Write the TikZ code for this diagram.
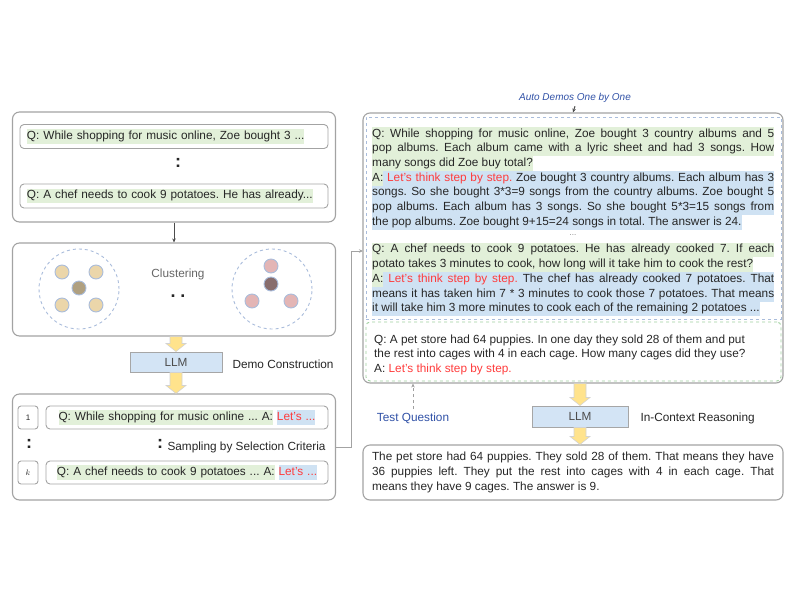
\documentclass[tikz,border=0pt]{standalone}
\usepackage{fontspec}
\setmainfont{Liberation Sans}
\usepackage{xcolor}
\usepackage{tikz}
\usetikzlibrary{arrows.meta, positioning}

\definecolor{qgreen}{HTML}{E2F0D9}
\definecolor{ablue}{HTML}{CFE2F3}
\definecolor{letsred}{HTML}{FF3B3B}
\definecolor{capblue}{HTML}{2F50A6}
\definecolor{rimgray}{HTML}{A3A3A3}
\definecolor{ringblue}{HTML}{A9BCDB}
\definecolor{llmblue}{HTML}{D3E4F5}
\definecolor{arrowyel}{HTML}{FFE38C}
\definecolor{ptan}{HTML}{EBD6AA}
\definecolor{ppink}{HTML}{E3B5B5}
\definecolor{dashgreen}{HTML}{9FD09F}

\frenchspacing
\setlength{\fboxsep}{0pt}
% one justified line of a demo, and its highlighted forms
\newcommand{\jline}[1]{\makebox[402pt][s]{#1}}
\newcommand{\qline}[1]{\colorbox{qgreen}{\strut\jline{#1}}}
\newcommand{\qend}[1]{\colorbox{qgreen}{\strut #1}}
\newcommand{\aline}[1]{\colorbox{ablue}{\strut\jline{#1}}}
\newcommand{\aend}[1]{\colorbox{ablue}{\strut #1}}
\newcommand{\lets}[1]{{\color{letsred}#1}}
\newcommand{\qmark}[1]{\colorbox{qgreen}{\strut #1}}
% fat yellow arrow pointing down from #1 to #2
\newcommand{\blockarrow}[2]{%
  \draw[yarr] ([xshift=-6pt]#1) -- ([xshift=-6pt,yshift=8pt]#2)
    -- ([xshift=-10pt,yshift=8pt]#2) -- (#2) -- ([xshift=10pt,yshift=8pt]#2)
    -- ([xshift=6pt,yshift=8pt]#2) -- ([xshift=6pt]#1) -- cycle;}

\begin{document}
\begin{tikzpicture}[x=1pt, y=-1pt,
  font=\fontsize{11.8}{14.7}\selectfont, text=black!85,
  panel/.style={draw=rimgray, line width=1.1pt, rounded corners=7pt},
  qbox/.style={draw=rimgray, line width=0.9pt, rounded corners=4pt,
               minimum height=24pt, text width=294pt, align=left, inner xsep=7pt},
  numbox/.style={draw=rimgray, line width=0.9pt, rounded corners=3pt,
                 minimum width=20pt, minimum height=23pt, inner sep=0pt,
                 font=\fontsize{8}{10}\selectfont},
  ring/.style={circle, draw=ringblue, dashed, line width=0.9pt, minimum size=80pt},
  tanpt/.style={circle, draw=ringblue, fill=ptan, line width=0.9pt,
                minimum size=14pt, inner sep=0pt},
  pinkpt/.style={tanpt, fill=ppink},
  llm/.style={draw=gray!70, fill=llmblue, line width=1pt, text=black!70,
              minimum width=92pt, minimum height=20pt},
  yarr/.style={draw=gray!35, fill=arrowyel, line width=0.6pt, line join=miter},
  colon/.style={font=\bfseries\fontsize{18}{18}\selectfont, inner sep=0pt},
  para/.style={align=left, inner sep=0pt, anchor=north west},
  conn/.style={-{Stealth[length=4pt, width=3.5pt]}, draw=gray!75, line width=1pt}
]
\useasboundingbox (0,0) rectangle (800,600);

%% ── LEFT: question pool ──────────────────────────────────────────────
\node[panel, minimum width=323pt, minimum height=110pt] at (174,167) (pool) {};
\node[qbox] at (174,136.5) (pq1) {\qmark{Q: While shopping for music online, Zoe bought 3 ...}};
\node[colon] at (178,163) (pdots) {:};
\node[qbox] at (174,196) (pq2) {\qmark{Q: A chef needs to cook 9 potatoes. He has already...}};

%% ── LEFT: clustering ─────────────────────────────────────────────────
\node[panel, minimum width=323pt, minimum height=93pt] at (174,289.5) (clus) {};
\node[ring] at (79,289) (ringa) {};
\node[tanpt] at (62,272) (a1) {};
\node[tanpt] at (96,272) (a2) {};
\node[tanpt, fill=ptan!75!black] at (79,288) (a0) {};
\node[tanpt] at (62,305) (a3) {};
\node[tanpt] at (96,305) (a4) {};
\node[ring] at (272,289) (ringb) {};
\node[pinkpt] at (271,266) (b1) {};
\node[pinkpt, fill=ppink!60!black] at (271,284) (b0) {};
\node[pinkpt] at (252,301) (b2) {};
\node[pinkpt] at (291,301) (b3) {};
\node[text=black!60] at (178,274) (clab) {Clustering};
\node[colon] at (178,296) (cdots) {. .};

%% ── LEFT: demo construction ──────────────────────────────────────────
\node[llm] at (176,362) (llm1) {LLM};
\node[anchor=west] at (229,364) (dcon) {Demo Construction};

\node[panel, minimum width=323pt, minimum height=106pt] at (174,447) (demo) {};
\node[numbox] at (28,417.5) (n1) {1};
\node[qbox, text width=268pt, align=center, minimum height=23pt] at (187,417.5) (d1)
  {\qmark{Q: While shopping for music online ... A:} \colorbox{ablue}{\strut\lets{Let's ...}}};
\node[colon] at (29,444) (ndots) {:};
\node[colon] at (160,444) (ddots) {:};
\node[anchor=west] at (164,447) (samp) {Sampling by Selection Criteria};
\node[numbox] at (28,472.5) (nk) {$k$};
\node[qbox, text width=268pt, align=center, minimum height=23pt] at (187,472.5) (dk)
  {\qmark{Q: A chef needs to cook 9 potatoes ... A:} \colorbox{ablue}{\strut\lets{Let's ...}}};

\coordinate (y1top) at (llm1.north |- clus.south);
\coordinate (y2top) at (llm1.south);
\coordinate (y2end) at (llm1.south |- demo.north);
\blockarrow{y1top}{llm1.north}
\blockarrow{y2top}{y2end}

%% ── RIGHT: auto demos one by one ─────────────────────────────────────
\node[font=\itshape, text=capblue] at (575,98) (autolab) {Auto Demos One by One};
\node[panel, minimum width=420pt, minimum height=270pt] at (573,248) (demos) {};
\node[draw=ringblue, dashed, line width=0.9pt, minimum width=415pt, minimum height=202pt]
  at (573.5,218) (demobox) {};
\node[draw=dashgreen, dashed, line width=0.9pt, rounded corners=4pt,
      minimum width=415pt, minimum height=59pt] at (573.5,351.5) (testbox) {};

\node[para] at (372,126.7) (ex1) {%
  \qline{Q: While shopping for music online, Zoe bought 3 country albums and 5}\\
  \qline{pop albums. Each album came with a lyric sheet and had 3 songs. How}\\
  \qend{many songs did Zoe buy total?}\\
  \aline{\qmark{A:} \lets{Let's think step by step.} Zoe bought 3 country albums. Each album has 3}\\
  \aline{songs. So she bought 3*3=9 songs from the country albums. Zoe bought 5}\\
  \aline{pop albums. Each album has 3 songs. So she bought 5*3=15 songs from}\\
  \aend{the pop albums. Zoe bought 9+15=24 songs in total. The answer is 24.}};
\node[text=black!50, font=\fontsize{8}{8}\selectfont, inner sep=0pt] at (573,235) (exdots) {...};
\node[para] at (372,242.5) (ex2) {%
  \qline{Q: A chef needs to cook 9 potatoes. He has already cooked 7. If each}\\
  \qend{potato takes 3 minutes to cook, how long will it take him to cook the rest?}\\
  \aline{\qmark{A:} \lets{Let's think step by step.} The chef has already cooked 7 potatoes. That}\\
  \aline{means it has taken him 7 * 3 minutes to cook those 7 potatoes. That means}\\
  \aend{it will take him 3 more minutes to cook each of the remaining 2 potatoes ...}};
\node[para] at (374,334.5) (tq) {%
  Q: A pet store had 64 puppies. In one day they sold 28 of them and put\\
  the rest into cages with 4 in each cage. How many cages did they use?\\
  A: \lets{Let's think step by step.}};

\draw[conn, draw=gray!60!black] (autolab.south) -- (demos.north);

%% ── RIGHT: in-context reasoning ──────────────────────────────────────
\node[text=capblue] at (413,418) (tqlab) {Test Question};
\draw[conn, dashed] (tqlab.north) -- (tqlab.north |- demos.south);
\node[llm, minimum width=96pt, minimum height=21pt] at (580,416.5) (llm2) {LLM};
\node[anchor=west] at (637,418) (icr) {In-Context Reasoning};
\node[panel, minimum width=420pt, minimum height=55pt, align=left] at (573,472.5) (ans) {%
  \jline{The pet store had 64 puppies. They sold 28 of them. That means they have}\\
  \jline{36 puppies left. They put the rest into cages with 4 in each cage. That}\\
  means they have 9 cages. The answer is 9.};

\coordinate (y3top) at (llm2.north |- demos.south);
\coordinate (y4top) at (llm2.south);
\coordinate (y4end) at (llm2.south |- ans.north);
\blockarrow{y3top}{llm2.north}
\blockarrow{y4top}{y4end}

%% ── connectors ───────────────────────────────────────────────────────
\coordinate (demoin) at (363,251);
\draw[conn, draw=gray!60!black] (pool.south) -- (clus.north);
\draw[conn, draw=rimgray] (demo.east |- samp.east) -- ++(15,0) |- (demoin);

\end{tikzpicture}
\end{document}
